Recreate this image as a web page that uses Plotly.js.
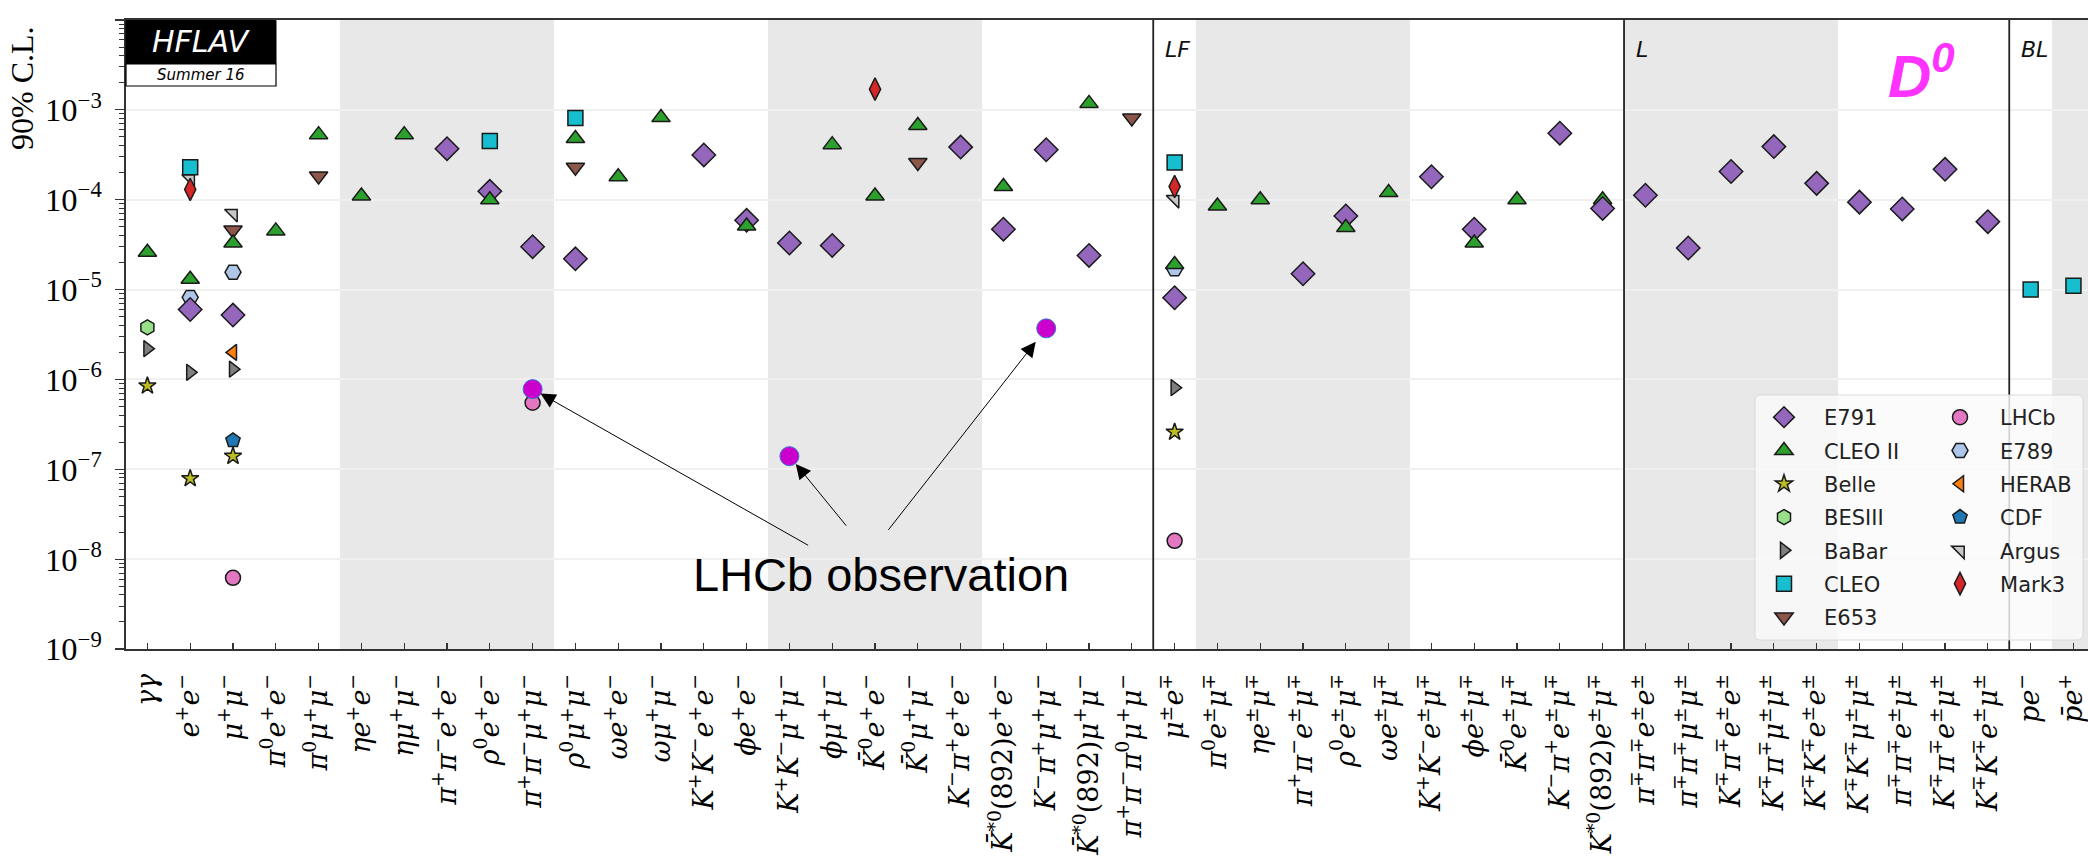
<!DOCTYPE html>
<html><head><meta charset="utf-8">
<script src="https://cdn.plot.ly/plotly-3.0.1.min.js"></script>
<style>html,body{margin:0;padding:0;background:#fff}#chart{width:2088px;height:864px}</style>
</head><body><div id="chart"></div>
<script>
// ---------------- categories (decay modes) ----------------
const modes = ['gg','ee','mumu','pi0ee','pi0mumu','etaee','etamumu','pipiee','rhoee','pipimumu',
  'rhomumu','omegaee','omegamumu','KKee','phiee','KKmumu','phimumu','K0ee','K0mumu','Kpiee',
  'Kstee','Kpimumu','Kstmumu','pipipi0mumu',
  'mue','pi0emu','etaemu','pipiemu','rhoemu','omegaemu','KKemu','phiemu','K0emu','Kpiemu','Kstemu',
  'pipiee_L','pipimumu_L','Kpiee_L','Kpimumu_L','KKee_L','KKmumu_L','pipiemu_L','Kpiemu_L','KKemu_L',
  'pe','pbare'];
const t = (b, s) => '<i>' + b + '</i><sup>' + s + '</sup>';
const tickLabels = [
  '<i>γγ</i>', t('e','+')+t('e','−'), t('μ','+')+t('μ','−'),
  t('π','0')+t('e','+')+t('e','−'), t('π','0')+t('μ','+')+t('μ','−'),
  t('ηe','+')+t('e','−'), t('ημ','+')+t('μ','−'),
  t('π','+')+t('π','−')+t('e','+')+t('e','−'), t('ρ','0')+t('e','+')+t('e','−'),
  t('π','+')+t('π','−')+t('μ','+')+t('μ','−'), t('ρ','0')+t('μ','+')+t('μ','−'),
  t('ωe','+')+t('e','−'), t('ωμ','+')+t('μ','−'),
  t('K','+')+t('K','−')+t('e','+')+t('e','−'), t('ϕe','+')+t('e','−'),
  t('K','+')+t('K','−')+t('μ','+')+t('μ','−'), t('ϕμ','+')+t('μ','−'),
  t('K̄','0')+t('e','+')+t('e','−'), t('K̄','0')+t('μ','+')+t('μ','−'),
  t('K','−')+t('π','+')+t('e','+')+t('e','−'), t('K̄','*0')+'(892)'+t('e','+')+t('e','−'),
  t('K','−')+t('π','+')+t('μ','+')+t('μ','−'), t('K̄','*0')+'(892)'+t('μ','+')+t('μ','−'),
  t('π','+')+t('π','−')+t('π','0')+t('μ','+')+t('μ','−'),
  t('μ','±')+t('e','∓'), t('π','0')+t('e','±')+t('μ','∓'), t('ηe','±')+t('μ','∓'),
  t('π','+')+t('π','−')+t('e','±')+t('μ','∓'), t('ρ','0')+t('e','±')+t('μ','∓'),
  t('ωe','±')+t('μ','∓'), t('K','+')+t('K','−')+t('e','±')+t('μ','∓'), t('ϕe','±')+t('μ','∓'),
  t('K̄','0')+t('e','±')+t('μ','∓'), t('K','−')+t('π','+')+t('e','±')+t('μ','∓'),
  t('K','*0')+'(892)'+t('e','±')+t('μ','∓'),
  t('π','∓')+t('π','∓')+t('e','±')+t('e','±'), t('π','∓')+t('π','∓')+t('μ','±')+t('μ','±'),
  t('K','∓')+t('π','∓')+t('e','±')+t('e','±'), t('K','∓')+t('π','∓')+t('μ','±')+t('μ','±'),
  t('K','∓')+t('K','∓')+t('e','±')+t('e','±'), t('K','∓')+t('K','∓')+t('μ','±')+t('μ','±'),
  t('π','∓')+t('π','∓')+t('e','±')+t('μ','±'), t('K','∓')+t('π','∓')+t('e','±')+t('μ','±'),
  t('K','∓')+t('K','∓')+t('e','±')+t('μ','±'),
  t('pe','−'), t('p̄e','+')
];

// ---------------- 90% C.L. upper limits per experiment ----------------
const E791_modes = ['ee','mumu','pipiee','rhoee','pipimumu','rhomumu','KKee','phiee','KKmumu','phimumu',
  'Kpiee','Kstee','Kpimumu','Kstmumu','mue','pipiemu','rhoemu','KKemu','phiemu','Kpiemu','Kstemu',
  'pipiee_L','pipimumu_L','Kpiee_L','Kpimumu_L','KKee_L','KKmumu_L','pipiemu_L','Kpiemu_L','KKemu_L'];
const E791_vals = [6.0e-6,5.2e-6,3.7e-4,1.24e-4,3.0e-5,2.2e-5,3.15e-4,5.9e-5,3.3e-5,3.1e-5,
  3.85e-4,4.7e-5,3.6e-4,2.4e-5,8.1e-6,1.5e-5,6.6e-5,1.8e-4,4.7e-5,5.5e-4,8.0e-5,
  1.12e-4,2.9e-5,2.06e-4,3.9e-4,1.52e-4,9.4e-5,7.9e-5,2.18e-4,5.7e-5];

const CLEOII_modes = ['gg','ee','mumu','pi0ee','pi0mumu','etaee','etamumu','rhoee','rhomumu','omegaee',
  'omegamumu','phiee','phimumu','K0ee','K0mumu','Kstee','Kstmumu','mue','pi0emu','etaemu','rhoemu',
  'omegaemu','phiemu','K0emu'];
const CLEOII_vals = [2.6e-5,1.3e-5,3.3e-5,4.5e-5,5.3e-4,1.1e-4,5.3e-4,1.0e-4,4.8e-4,1.8e-4,
  8.2e-4,5.1e-5,4.1e-4,1.1e-4,6.7e-4,1.4e-4,1.18e-3,1.9e-5,8.5e-5,1.0e-4,4.9e-5,
  1.2e-4,3.3e-5,1.0e-4];
const CLEOII_hidden_modes = ['Kstemu'];
const CLEOII_hidden_vals = [1.0e-4];

const Belle_modes = ['gg','ee','mumu','mue'];
const Belle_vals = [8.5e-7,7.9e-8,1.4e-7,2.6e-7];

const BESIII_modes = ['gg'];
const BESIII_vals = [3.8e-6];

const BaBar_modes = ['gg','ee','mumu','mue'];
const BaBar_vals = [2.2e-6,1.2e-6,1.3e-6,8.1e-7];

const CLEO_modes = ['ee','rhoee','rhomumu','mue','pe','pbare'];
const CLEO_vals = [2.3e-4,4.5e-4,8.1e-4,2.6e-4,1.0e-5,1.1e-5];

const E653_modes = ['mumu','pi0mumu','rhomumu','K0mumu','pipipi0mumu'];
const E653_vals = [4.6e-5,1.84e-4,2.3e-4,2.6e-4,8.1e-4];

const LHCb_modes = ['mumu','pipimumu','mue'];
const LHCb_vals = [6.2e-9,5.5e-7,1.6e-8];

const E789_modes = ['ee','mumu','mue'];
const E789_vals = [8.2e-6,1.56e-5,1.7e-5];

const HERAB_modes = ['mumu'];
const HERAB_vals = [2.0e-6];

const CDF_modes = ['mumu'];
const CDF_vals = [2.1e-7];

const Argus_modes = ['ee','mumu','mue'];
const Argus_vals = [1.7e-4,7.0e-5,1.0e-4];

const Mark3_modes = ['ee','K0ee','mue'];
const Mark3_vals = [1.3e-4,1.7e-3,1.4e-4];

// LHCb observed branching fractions (arrows)
const LHCbObs_modes = ['pipimumu','KKmumu','Kpimumu'];
const LHCbObs_vals = [7.8e-7,1.4e-7,3.7e-6];

// ---------------- traces ----------------
const edge = {color:'#1a1a1a', width:1.5};
const pad = '\u00a0\u00a0\u00a0';
function tr(name, xs, ys, symbol, color, size, legend, rank, show){
  return {type:'scatter', mode:'markers', name:pad + name, x:xs, y:ys, cliponaxis:false,
    legend:legend, legendrank:rank, legendgroup:name, showlegend:show!==false,
    marker:{symbol:symbol, color:color, size:size, line:edge}};
}
const data = [
  tr('E653', E653_modes, E653_vals, 'triangle-down', '#8c564b', 16, 'legend', 7),
  tr('Argus', Argus_modes, Argus_vals, 'triangle-ne', '#c7c7c7', 14, 'legend2', 5),
  tr('BESIII', BESIII_modes, BESIII_vals, 'hexagon', '#98df8a', 15, 'legend', 4),
  tr('E789', E789_modes, E789_vals, 'hexagon2', '#aec7e8', 16, 'legend2', 2),
  tr('CLEO II', CLEOII_hidden_modes, CLEOII_hidden_vals, 'triangle-up', '#2ca02c', 16, 'legend', 2, false),
  tr('E791', E791_modes, E791_vals, 'diamond', '#9467bd', 18, 'legend', 1),
  tr('CLEO II', CLEOII_modes, CLEOII_vals, 'triangle-up', '#2ca02c', 16, 'legend', 2),
  tr('Belle', Belle_modes, Belle_vals, 'star', '#bcbd22', 13, 'legend', 3),
  tr('BaBar', BaBar_modes, BaBar_vals, 'triangle-right', '#7f7f7f', 14, 'legend', 5),
  tr('CLEO', CLEO_modes, CLEO_vals, 'square', '#17becf', 15, 'legend', 6),
  tr('HERAB', HERAB_modes, HERAB_vals, 'triangle-left', '#ff7f0e', 14, 'legend2', 3),
  tr('CDF', CDF_modes, CDF_vals, 'pentagon', '#1f77b4', 15, 'legend2', 4),
  tr('Mark3', Mark3_modes, Mark3_vals, 'diamond-tall', '#d62728', 16, 'legend2', 6),
  tr('LHCb', LHCb_modes, LHCb_vals, 'circle', '#e377c2', 15, 'legend2', 1),
  {type:'scatter', mode:'markers', name:'LHCb observation', x:LHCbObs_modes, y:LHCbObs_vals,
   showlegend:false, cliponaxis:false,
   marker:{symbol:'circle', color:'#cc00cc', size:19, line:{color:'#3b6fd4', width:1}}}
];

// ---------------- layout helpers ----------------
const L = 126, R = 2088, T = 20, B = 649;
const px = v => (v - L) / (R - L);
const py = v => (B - v) / (B - T);

const shapes = [];
[[4.5,9.5],[14.5,19.5],[24.5,29.5],[34.5,39.5],[44.5,46]].forEach(b => shapes.push({
  type:'rect', xref:'x', yref:'paper', x0:b[0], x1:b[1], y0:0, y1:1,
  fillcolor:'#e8e8e8', line:{width:0}, layer:'below'}));
[23.5,34.5,43.5].forEach(s => shapes.push({
  type:'line', xref:'x', yref:'paper', x0:s, x1:s, y0:0, y1:1,
  line:{color:'#222', width:1.8}, layer:'above'}));
// HFLAV logo
shapes.push({type:'rect', xref:'paper', yref:'paper', x0:px(126), x1:px(276), y0:py(64), y1:py(20.5),
  fillcolor:'#000', line:{color:'#000', width:1}, layer:'above'});
shapes.push({type:'rect', xref:'paper', yref:'paper', x0:px(126), x1:px(276), y0:py(86), y1:py(64),
  fillcolor:'#fff', line:{color:'#000', width:1.2}, layer:'above'});
// legend background (rounded)
(function(){
  const x0 = px(1755), x1 = px(2083), y0 = py(640), y1 = py(395);
  const rx = 6/(R-L), ry = 6/(B-T);
  const p = `M${x0+rx},${y0} L${x1-rx},${y0} Q${x1},${y0} ${x1},${y0+ry} L${x1},${y1-ry} Q${x1},${y1} ${x1-rx},${y1} `+
            `L${x0+rx},${y1} Q${x0},${y1} ${x0},${y1-ry} L${x0},${y0+ry} Q${x0},${y0} ${x0+rx},${y0} Z`;
  shapes.push({type:'path', xref:'paper', yref:'paper', path:p,
    fillcolor:'rgba(250,250,250,0.82)', line:{color:'rgba(215,215,215,0.9)', width:1}, layer:'above'});
})();

const sans = 'DejaVu Sans, sans-serif';
const serif = 'Liberation Serif, DejaVu Serif, serif';
const A = (x, y, text, font, extra) => Object.assign({xref:'paper', yref:'paper', x:px(x), y:py(y),
  text:text, showarrow:false, xanchor:'center', yanchor:'middle', font:font}, extra || {});
const annotations = [
  A(201, 42, '<i>HFLAV</i>', {family:sans, size:30, color:'#fff'}),
  A(201, 75, '<i>Summer 16</i>', {family:sans, size:15, color:'#000'}),
  A(1163, 50, '<i>LF</i>', {family:sans, size:22, color:'#111'}, {xanchor:'left'}),
  A(1634, 50, '<i>L</i>', {family:sans, size:22, color:'#111'}, {xanchor:'left'}),
  A(2019, 50, '<i>BL</i>', {family:sans, size:22, color:'#111'}, {xanchor:'left'}),
  A(1886, 72, '<b><i>D<sup>0</sup></i></b>', {family:'Liberation Sans, Arial, sans-serif', size:60, color:'#ff33ff'}, {xanchor:'left'}),
  A(22, 88, '90% C.L.', {family:serif, size:32, color:'#000'}, {textangle:-90}),
  A(881, 574, 'LHCb observation', {family:'Liberation Sans, Arial, sans-serif', size:47, color:'#000'})
];
// arrows from the text to the LHCb observed points
const arrowTail = [[277,157,9],[58,71,10],[-159,203,17]];
LHCbObs_modes.forEach((m,i) => annotations.push({
  xref:'x', yref:'y', x:m, y:Math.log10(LHCbObs_vals[i]), ax:arrowTail[i][0], ay:arrowTail[i][1],
  axref:'pixel', ayref:'pixel', text:'', showarrow:true, arrowhead:2, arrowsize:3, arrowwidth:1,
  arrowcolor:'#000', standoff:arrowTail[i][2]}));

const legendCommon = {bgcolor:'rgba(0,0,0,0)', borderwidth:0, yanchor:'top', xanchor:'left',
  tracegroupgap:3, font:{family:sans, size:21, color:'#222'}, traceorder:'grouped'};

const layout = {
  width:2088, height:864,
  margin:{l:L, r:0, t:T, b:864-B, pad:0},
  paper_bgcolor:'#fff', plot_bgcolor:'#fff',
  showlegend:true,
  xaxis:{type:'category', categoryorder:'array', categoryarray:modes,
    tickvals:modes, ticktext:tickLabels, range:[-0.5, 45.34], tickangle:-90,
    ticks:'inside', ticklen:6, tickwidth:1.2, tickcolor:'#333', ticklabelstandoff:12,
    showline:true, linecolor:'#333', linewidth:2, mirror:true, showgrid:false, zeroline:false,
    tickfont:{family:'DejaVu Serif, serif', size:27, color:'#000'}},
  yaxis:{type:'log', range:[-9,-2], dtick:1, exponentformat:'power', showexponent:'all',
    ticks:'outside', ticklen:9, tickwidth:1.2, tickcolor:'#333', ticklabelstandoff:8,
    minor:{ticks:'outside', ticklen:5, tickwidth:1, tickcolor:'#333', dtick:'D1', showgrid:false},
    showline:true, linecolor:'#333', linewidth:2, showgrid:true, gridcolor:'#f0f0f0', gridwidth:2,
    zeroline:false, tickfont:{family:serif, size:26, color:'#000'}},
  legend:Object.assign({x:px(1764), y:py(397)}, legendCommon),
  legend2:Object.assign({x:px(1940), y:py(397)}, legendCommon),
  shapes:shapes, annotations:annotations
};
Plotly.newPlot('chart', data, layout, {staticPlot:true, displayModeBar:false});
</script></body></html>
